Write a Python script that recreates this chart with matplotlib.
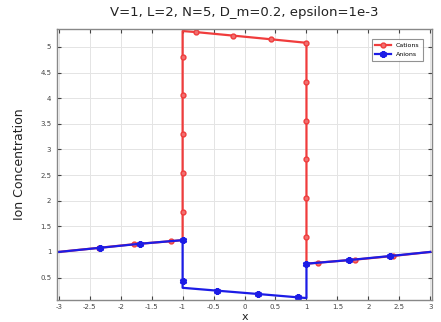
import matplotlib
matplotlib.use('agg')
import matplotlib.pyplot as plt

# polyline vertices along each curve; mark = 1 where a marker is drawn
cation_x = [-3, -2.35, -1.79, -1.18, -1, -1, -1, -1, -1, -1, -1,
            -0.79, -0.18, 0.42, 1, 1, 1, 1, 1, 1, 1, 1.18, 1.79, 2.39, 3]
cation_y = [1.00, 1.08, 1.15, 1.21, 1.23, 1.78, 2.54, 3.30, 4.06, 4.80, 5.31,
            5.29, 5.22, 5.15, 5.08, 4.31, 3.56, 2.81, 2.05, 1.29, 0.77,
            0.79, 0.85, 0.92, 1.00]
cation_mark = [0, 1, 1, 1, 0, 1, 1, 1, 1, 1, 0,
               1, 1, 1, 1, 1, 1, 1, 1, 1, 0, 1, 1, 1, 0]

anion_x = [-3, -2.34, -1.68, -1, -1, -1, -0.45, 0.21, 0.87, 1, 1, 1.68, 2.35, 3]
anion_y = [1.00, 1.08, 1.16, 1.23, 0.43, 0.30, 0.245, 0.18, 0.113, 0.10,
           0.77, 0.84, 0.92, 1.00]
anion_mark = [0, 1, 1, 1, 1, 0, 1, 1, 1, 0, 1, 1, 1, 0]

xticks = [-3, -2.5, -2, -1.5, -1, -0.5, 0, 0.5, 1, 1.5, 2, 2.5, 3]
yticks = [0.5, 1, 1.5, 2, 2.5, 3, 3.5, 4, 4.5, 5]

title = 'V=1, L=2, N=5, D_m=0.2, epsilon=1e-3'

fig = plt.figure(figsize=(4.41, 3.22), dpi=100)
ax = fig.add_axes([0.129, 0.068, 0.851, 0.842])

red = '#f03c3c'
blue = '#1c1ce6'

ax.plot(cation_x, cation_y, color=red, lw=1.6, marker='o', ms=3.5,
        mfc='#f07070', mec=red,
        markevery=[i for i, m in enumerate(cation_mark) if m], label='Cations')
ax.plot(anion_x, anion_y, color=blue, lw=1.6, marker=(6, 2, 0), ms=5, mew=1.8,
        mec=blue,
        markevery=[i for i, m in enumerate(anion_mark) if m], label='Anions')

ax.set_xlim(-3.03, 3.03)
ax.set_ylim(0.06, 5.35)
ax.set_xticks(xticks)
ax.set_xticklabels(['%g' % t for t in xticks])
ax.set_yticks(yticks)
ax.set_yticklabels(['%g' % t for t in yticks])
ax.tick_params(direction='in', length=3, labelsize=5, colors='#444444',
               top=True, right=True, pad=4)
ax.tick_params(axis='x', pad=3)
ax.grid(True, color='#e4e4e4', lw=0.7)
for s in ax.spines.values():
    s.set_color('#888888')
    s.set_linewidth(1.0)

ax.set_title(title, fontsize=9.5, color='#222222', pad=9)
ax.set_xlabel('x', fontsize=8, color='#222222', va='baseline')
ax.xaxis.set_label_coords(0.5, -0.072)
ax.set_ylabel('Ion Concentration', fontsize=9, color='#222222', labelpad=10)

leg = ax.legend(loc='upper right', fontsize=4.5, handlelength=2.5,
                borderpad=0.6, labelspacing=0.6, fancybox=False,
                bbox_to_anchor=(0.985, 0.975))
leg.get_frame().set_edgecolor('#777777')
leg.get_frame().set_linewidth(0.8)

fig.savefig('out.png', dpi=100)
